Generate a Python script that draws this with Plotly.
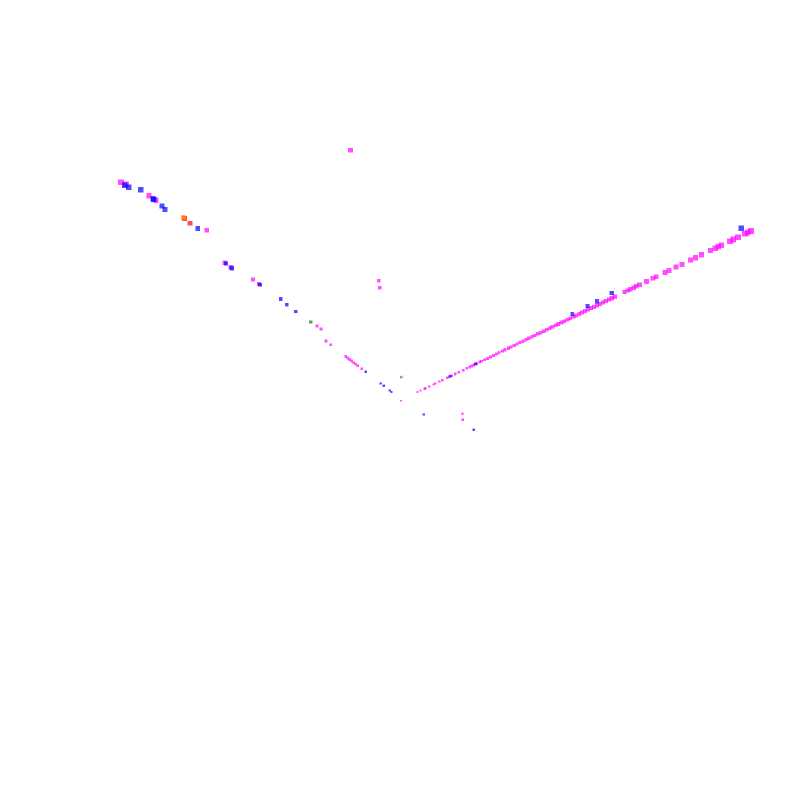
import plotly.graph_objects as go

# right arm (runs along -x), magenta points
arm_x_magenta = [-4.5, -5.4, -6.5, -6.8, -7.9, -9.1, -9.6, -10.8, -11.6, -13.0, -13.6, -14.4, -15.3,
                 -16.4, -17.6, -18.7, -19.5, -20.1, -20.7, -21.5, -22.4, -22.9, -23.8, -24.6, -25.5,
                 -26.3, -27.2, -28.0, -28.9, -29.7, -30.6, -31.4, -32.3, -33.1, -34.0, -34.8, -35.7,
                 -36.5, -37.4, -38.2, -39.1, -39.9, -40.8, -41.6, -42.5, -43.3, -44.2, -45.0, -45.9,
                 -46.7, -47.6, -48.4, -49.3, -50.1, -51.0, -51.8, -52.7, -53.5, -54.4, -55.2, -56.1,
                 -56.9, -57.8, -58.6, -59.5, -60.3, -61.2, -64.0, -64.9, -65.7, -66.6, -67.4, -68.3,
                 -70.3, -72.2, -73.1, -75.6, -76.8, -78.8, -80.5, -83.0, -84.4, -86.1, -88.7, -90.1,
                 -90.9, -91.8, -94.3, -95.2, -96.6, -98.6, -99.4, -100.3]
arm_x_blue = [-13.9, -21.2, -49.0, -53.3, -56.1, -60.3, -97.5]
arm_x_blue_z = [0.0, 0.0, 0.9, 1.1, 1.1, 1.4, 2.0]

# left arm (runs along -y)
arm_y_magenta = [-100.0, -98.2, -90.0, -87.5, -69.4, -63.0, -60.9, -53.0, -50.9, -30.2, -28.8,
                 -27.0, -25.3, -19.9, -19.2, -18.5, -17.8, -17.1, -16.4, -15.7, -14.2]
arm_y_magenta_z = [0.0, 0.5, 2.2, 2.5, 5.0, 0.0, 0.0, 1.4, 1.4, 2.2, 2.2,
                   0.0, 0.0, 0.0, 0.0, 0.0, 0.0, 0.0, 0.0, 0.0, 0.0]
arm_y_blue = [-98.6, -97.2, -92.9, -88.6, -88.3, -85.4, -84.3, -72.6, -62.6, -60.5, -50.5, -43.1,
              -40.9, -37.7, -12.8, -7.5, -6.4, -4.3, -3.6]
arm_y_blue_z = [0.0, 0.3, 2.1, 2.2, 2.2, 2.2, 1.9, 3.6, 0.0, 0.0, 1.4, 1.9,
                1.7, 1.7, 0.0, 0.0, 0.0, 0.0, 0.0]
arm_y_red = [-75.4, -77.3]
arm_y_red_z = [3.4, 3.5]
arm_y_orange = [-77.8]
arm_y_orange_z = [3.5]
arm_y_green = [-32.4]
arm_y_green_z = [2.0]

# scattered points off the two arms
off_magenta_x = [-47.9, -23.1, -21.7, -5.0, 0.4, -7.5, -6.2]
off_magenta_y = [-77.6, -36.8, -34.7, -6.5, 0.15, 12.3, 14.0]
off_blue_x = [-0.5, -5.9]
off_blue_y = [7.2, 18.3]
off_lime_x = [-5.4]
off_lime_y = [-6.4]

fig = go.Figure()


def add(x, y, z, color):
    # points further out from the corner are drawn a little larger
    size = [2 + 0.04 * max(abs(a), abs(b)) for a, b in zip(x, y)]
    fig.add_trace(go.Scatter3d(x=x, y=y, z=z, mode="markers",
                               marker=dict(size=size, color=color, symbol="square",
                                           line=dict(width=0)),
                               showlegend=False, hoverinfo="skip"))


add(arm_x_magenta, [0] * len(arm_x_magenta), [0] * len(arm_x_magenta), "magenta")
add(arm_x_blue, [0] * len(arm_x_blue), arm_x_blue_z, "blue")
add([0] * len(arm_y_magenta), arm_y_magenta, arm_y_magenta_z, "magenta")
add([0] * len(arm_y_blue), arm_y_blue, arm_y_blue_z, "blue")
add([0] * len(arm_y_red), arm_y_red, arm_y_red_z, "red")
add([0] * len(arm_y_orange), arm_y_orange, arm_y_orange_z, "darkorange")
add([0] * len(arm_y_green), arm_y_green, arm_y_green_z, "green")
add(off_magenta_x, off_magenta_y, [0] * len(off_magenta_x), "magenta")
add(off_blue_x, off_blue_y, [0] * len(off_blue_x), "blue")
add(off_lime_x, off_lime_y, [0] * len(off_lime_x), "chartreuse")

hidden = dict(visible=False, showgrid=False, zeroline=False, showbackground=False)
fig.update_layout(
    width=800, height=800,
    margin=dict(l=0, r=0, t=0, b=0),
    paper_bgcolor="white",
    scene=dict(
        xaxis=dict(range=[-111.7, 113.3], **hidden),
        yaxis=dict(range=[-109.8, 116.2], **hidden),
        zaxis=dict(range=[-112, 112], **hidden),
        aspectmode="manual",
        aspectratio=dict(x=2.495, y=2.56, z=2.61),
        camera=dict(eye=dict(x=1.078, y=1.364, z=1.346),
                    projection=dict(type="orthographic")),
    ),
)

fig.write_html("out.html")
